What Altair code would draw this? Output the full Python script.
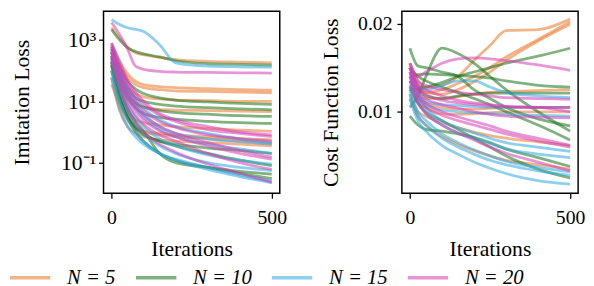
import altair as alt
import pandas as pd

# ---------------- data ----------------
series_labels = ["N = 5", "N = 10", "N = 15", "N = 20"]
series_colors = ["#EB762A", "#167316", "#30A8E2", "#D53EB8"]

iters_left = [0, 25, 50, 75, 100, 150, 200, 300, 400, 500]
iters_right = [0, 25, 50, 100, 150, 200, 250, 300, 400, 500]

# Imitation loss (left panel), one list per run
imit_n5 = [
    [2500, 1200, 600, 380, 330, 270, 230, 200, 190, 180],
    [800, 200, 80, 45, 35, 30, 28, 26, 24, 23],
    [600, 150, 60, 35, 28, 24, 22, 21, 20, 19],
    [400, 80, 30, 18, 14, 12, 11, 10.5, 10, 10],
    [300, 50, 15, 8, 6.5, 5.5, 5.2, 5, 4.8, 4.6],
    [200, 20, 5, 2.5, 2, 1.7, 1.5, 1.3, 1.15, 1.05],
    [150, 10, 3, 1.5, 1.1, 0.9, 0.8, 0.7, 0.62, 0.55],
    [60, 5, 1.5, 0.9, 0.7, 0.55, 0.5, 0.45, 0.4, 0.35],
    [35, 8, 2.5, 1.3, 1.0, 0.8, 0.7, 0.6, 0.5, 0.42],
]
imit_n10 = [
    [2200, 1000, 550, 420, 350, 280, 210, 170, 160, 150],
    [500, 120, 45, 25, 18, 13, 11, 9.5, 8.5, 8],
    [400, 80, 25, 13, 10, 8, 7, 6.2, 5.7, 5.3],
    [300, 60, 18, 9, 6.5, 5, 4.3, 3.8, 3.4, 3.2],
    [250, 40, 12, 6, 4, 3, 2.6, 2.2, 2.0, 1.9],
    [200, 30, 6, 2.2, 1.07, 0.2, 0.1, 0.07, 0.052, 0.042],
    [150, 20, 4, 1.5, 0.9, 0.5, 0.35, 0.2, 0.12, 0.08],
    [100, 12, 3, 1.3, 0.8, 0.5, 0.4, 0.3, 0.25, 0.2],
    [180, 15, 3, 1, 0.5, 0.2, 0.12, 0.07, 0.045, 0.03],
]
imit_n15 = [
    [4600, 3200, 2500, 2200, 1900, 700, 180, 140, 133, 130],
    [600, 100, 30, 12, 6, 2.5, 1.5, 0.9, 0.6, 0.45],
    [400, 60, 15, 6, 3, 1.2, 0.7, 0.4, 0.28, 0.2],
    [300, 40, 8, 3, 1.5, 0.6, 0.35, 0.18, 0.12, 0.09],
    [200, 25, 5, 1.8, 0.9, 0.35, 0.2, 0.1, 0.07, 0.055],
    [100, 10, 2.5, 1, 0.5, 0.2, 0.12, 0.06, 0.035, 0.022],
    [60, 6, 1.5, 0.7, 0.4, 0.2, 0.13, 0.07, 0.04, 0.025],
    [500, 80, 20, 8, 4, 1.5, 0.9, 0.6, 0.48, 0.4],
]
imit_n20 = [
    [3700, 1500, 500, 140, 110, 95, 90, 87, 85, 83],
    [700, 150, 40, 15, 8, 3.5, 2.2, 1.2, 0.9, 0.7],
    [600, 120, 30, 10, 5, 2.2, 1.4, 0.8, 0.6, 0.5],
    [500, 80, 20, 7, 3.5, 1.5, 0.9, 0.45, 0.25, 0.15],
    [400, 60, 15, 5, 2.5, 1.1, 0.7, 0.35, 0.2, 0.13],
    [300, 40, 10, 3.5, 1.8, 0.8, 0.5, 0.2, 0.1, 0.06],
    [250, 30, 6, 2, 1, 0.4, 0.22, 0.09, 0.045, 0.023],
    [800, 200, 50, 20, 10, 4, 2.5, 1.5, 1.0, 0.8],
]

# Cost function loss (right panel)
cost_n5 = [
    [0.0155, 0.0135, 0.0128, 0.0130, 0.0140, 0.0158, 0.0175, 0.0192, 0.0193, 0.0205],
    [0.0150, 0.0130, 0.0122, 0.0120, 0.0125, 0.0134, 0.0145, 0.0158, 0.0180, 0.0199],
    [0.0145, 0.0128, 0.0122, 0.0125, 0.0132, 0.0140, 0.0150, 0.0162, 0.0182, 0.0202],
    [0.0140, 0.0120, 0.0115, 0.0115, 0.0117, 0.0120, 0.0122, 0.0123, 0.0124, 0.0125],
    [0.0130, 0.0115, 0.0110, 0.0105, 0.0103, 0.0103, 0.0104, 0.0105, 0.0105, 0.0105],
    [0.0125, 0.0110, 0.0105, 0.0098, 0.0097, 0.0098, 0.0099, 0.0100, 0.0100, 0.0100],
    [0.0120, 0.0100, 0.0095, 0.0088, 0.0082, 0.0077, 0.0073, 0.0070, 0.0066, 0.0062],
    [0.0115, 0.0095, 0.0085, 0.0072, 0.0063, 0.0056, 0.0050, 0.0045, 0.0040, 0.0035],
]
cost_n10 = [
    [0.0172, 0.0152, 0.0150, 0.0145, 0.0140, 0.0125, 0.0115, 0.0105, 0.0092, 0.0084],
    [0.0105, 0.0118, 0.0140, 0.0172, 0.0166, 0.0155, 0.0140, 0.0125, 0.0100, 0.0078],
    [0.0125, 0.0126, 0.0128, 0.0133, 0.0140, 0.0145, 0.0150, 0.0155, 0.0163, 0.0172],
    [0.0140, 0.0142, 0.0143, 0.0142, 0.0141, 0.0140, 0.0138, 0.0135, 0.0130, 0.0128],
    [0.0095, 0.0085, 0.0080, 0.0078, 0.0075, 0.0071, 0.0065, 0.0058, 0.0048, 0.0038],
    [0.0135, 0.0125, 0.0118, 0.0115, 0.0118, 0.0120, 0.0121, 0.0121, 0.0121, 0.0121],
    [0.0128, 0.0110, 0.0100, 0.0090, 0.0080, 0.0070, 0.0060, 0.0050, 0.0035, 0.0025],
    [0.0150, 0.0140, 0.0135, 0.0128, 0.0122, 0.0115, 0.0108, 0.0100, 0.0085, 0.0068],
]
cost_n15 = [
    [0.0145, 0.0130, 0.0125, 0.0130, 0.0135, 0.0135, 0.0128, 0.0122, 0.0118, 0.0116],
    [0.0140, 0.0120, 0.0112, 0.0108, 0.0107, 0.0106, 0.0105, 0.0105, 0.0105, 0.0105],
    [0.0135, 0.0115, 0.0108, 0.0102, 0.0100, 0.0099, 0.0098, 0.0097, 0.0096, 0.0095],
    [0.0145, 0.0120, 0.0105, 0.0090, 0.0082, 0.0076, 0.0070, 0.0065, 0.0060, 0.0055],
    [0.0130, 0.0110, 0.0098, 0.0085, 0.0076, 0.0070, 0.0064, 0.0058, 0.0052, 0.0048],
    [0.0125, 0.0100, 0.0090, 0.0075, 0.0065, 0.0057, 0.0050, 0.0044, 0.0037, 0.0032],
    [0.0120, 0.0095, 0.0085, 0.0070, 0.0060, 0.0052, 0.0045, 0.0040, 0.0033, 0.0028],
    [0.0115, 0.0090, 0.0078, 0.0062, 0.0052, 0.0043, 0.0036, 0.0030, 0.0022, 0.0018],
]
cost_n20 = [
    [0.0155, 0.0140, 0.0145, 0.0155, 0.0160, 0.0161, 0.0160, 0.0158, 0.0153, 0.0147],
    [0.0155, 0.0135, 0.0130, 0.0125, 0.0122, 0.0120, 0.0118, 0.0116, 0.0115, 0.0114],
    [0.0150, 0.0130, 0.0125, 0.0118, 0.0113, 0.0110, 0.0108, 0.0106, 0.0105, 0.0105],
    [0.0150, 0.0125, 0.0115, 0.0108, 0.0104, 0.0100, 0.0097, 0.0095, 0.0094, 0.0093],
    [0.0145, 0.0120, 0.0110, 0.0100, 0.0094, 0.0089, 0.0084, 0.0078, 0.0070, 0.0062],
    [0.0140, 0.0115, 0.0105, 0.0096, 0.0090, 0.0085, 0.0080, 0.0075, 0.0067, 0.0060],
    [0.0135, 0.0110, 0.0098, 0.0085, 0.0076, 0.0068, 0.0060, 0.0053, 0.0043, 0.0033],
    [0.0150, 0.0128, 0.0120, 0.0113, 0.0110, 0.0108, 0.0107, 0.0106, 0.0105, 0.0100],
]


def build(groups, iters):
    rows = []
    for label, runs in zip(series_labels, groups):
        for r, vals in enumerate(runs):
            for it, v in zip(iters, vals):
                rows.append({"N": label, "run": f"{label}-{r}", "iter": it, "val": v})
    return pd.DataFrame(rows)


df_left = build([imit_n5, imit_n10, imit_n15, imit_n20], iters_left)
df_right = build([cost_n5, cost_n10, cost_n15, cost_n20], iters_right)

FONT = "Liberation Serif"
TICK_FS = 20
TITLE_FS = 22

color_enc = alt.Color(
    "N:N",
    scale=alt.Scale(domain=series_labels, range=series_colors),
    legend=alt.Legend(
        title=None,
        orient="none",
        direction="horizontal",
        legendX=-97,
        legendY=248,
        symbolType="stroke",
        symbolSize=1680,
        symbolStrokeWidth=3.5,
        symbolOpacity=0.55,
        labelFont=FONT,
        labelFontSize=21,
        labelFontStyle="italic",
        labelColor="black",
        labelOffset=15,
        columnPadding=13,
    ),
)

x_enc = alt.X(
    "iter:Q",
    scale=alt.Scale(domain=[-25, 525], nice=False, zero=False),
    axis=alt.Axis(values=[0, 500], title="Iterations", format="d",
                  labelPadding=10, titlePadding=11),
)

line_kw = dict(opacity=0.55, strokeWidth=2.8, interpolate="monotone", clip=True)

left = (
    alt.Chart(df_left)
    .mark_line(**line_kw)
    .encode(
        x=x_enc,
        y=alt.Y(
            "val:Q",
            scale=alt.Scale(type="log", domain=[0.01, 8700], nice=False),
            axis=alt.Axis(
                values=[0.1, 10, 1000],
                title="Imitation Loss",
                labelFontSize=22,
                titlePadding=28,
                labelExpr="datum.value > 500 ? '10³' : datum.value > 5 ? '10¹' : '10⁻¹'",
            ),
        ),
        color=color_enc,
        detail="run:N",
    )
    .properties(width=179, height=185)
)

right = (
    alt.Chart(df_right)
    .mark_line(**line_kw)
    .encode(
        x=x_enc,
        y=alt.Y(
            "val:Q",
            scale=alt.Scale(domain=[0.00076, 0.0214], nice=False, zero=False),
            axis=alt.Axis(values=[0.01, 0.02], format=".2f", title="Cost Function Loss",
                          titlePadding=15, labelPadding=5),
        ),
        color=color_enc,
        detail="run:N",
    )
    .properties(width=179, height=185)
)

chart = (
    alt.hconcat(left, right, spacing=32)
    .properties(padding={"left": 0, "top": 0, "right": 0, "bottom": 0})
    .configure_view(stroke="black", strokeWidth=1.5)
    .configure_axis(
        domain=False,
        grid=False,
        ticks=True,
        tickColor="black",
        tickWidth=1.3,
        tickSize=5,
        labelFont=FONT,
        labelFontSize=TICK_FS,
        labelColor="black",
        labelPadding=3,
        titleFont=FONT,
        titleFontSize=TITLE_FS,
        titleFontWeight="normal",
        titleColor="black",
        titlePadding=6,
    )
)

chart.save("out.html", embed_options={"renderer": "svg", "actions": False})
